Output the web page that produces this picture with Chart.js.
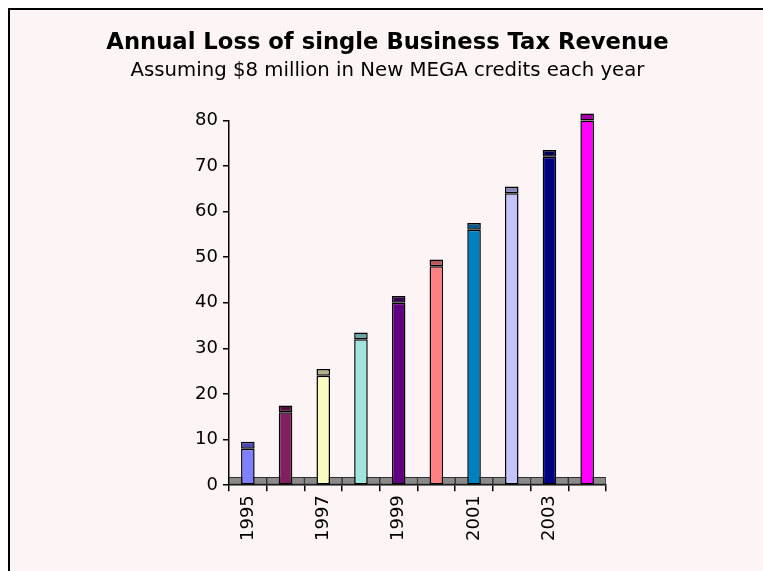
<!DOCTYPE html>
<html>
<head>
<meta charset="utf-8">
<script src="https://cdn.jsdelivr.net/npm/chart.js@4"></script>
<style>
  html, body { margin: 0; padding: 0; background: #ffffff; }
  #frame {
    position: absolute; left: 8px; top: 8px;
    width: 755px; height: 563px;
    border-left: 2px solid #000; border-top: 2px solid #000;
    background: #fdf5f5;
  }
  canvas { display: block; }
</style>
</head>
<body>
<div id="frame"><canvas id="taxChart" width="755" height="563"></canvas></div>
<script>
// years on the x axis
const years = ['1995', '1996', '1997', '1998', '1999', '2000', '2001', '2002', '2003', '2004'];
// cumulative loss, $ million (8 per year)
const lossValues = [8, 16, 24, 32, 40, 48, 56, 64, 72, 80];
// darker top face of each column
const capValues = [1.5, 1.5, 1.5, 1.5, 1.5, 1.5, 1.5, 1.5, 1.5, 1.5];
// grey floor strip along the axis
const floorValues = [1.7, 1.7, 1.7, 1.7, 1.7, 1.7, 1.7, 1.7, 1.7, 1.7];
const yTicks = [0, 10, 20, 30, 40, 50, 60, 70, 80];

const barColors = ['#8080ff', '#802060', '#f8fcc0', '#a0e4e0', '#600080', '#ff8080', '#0080c0', '#c4c4fc', '#000080', '#ff00ff'];
const capColors = ['#4848b0', '#501038', '#b0b488', '#68a4a0', '#380050', '#b85858', '#005888', '#8888b8', '#000050', '#a800a8'];

const family = '"DejaVu Sans", Verdana, sans-serif';
const tickFont = { family: family, size: 18 };

// Build the chart
const ctx = document.getElementById('taxChart').getContext('2d');
new Chart(ctx, {
  type: 'bar',
  data: {
    labels: years,
    datasets: [
      {
        label: 'Loss',
        data: lossValues,
        stack: 'main',
        backgroundColor: barColors,
        borderColor: '#000',
        borderWidth: 1.5,
        borderSkipped: false,
        grouped: false,
        categoryPercentage: 1,
        barPercentage: 0.36,
        clip: false,
        order: 1
      },
      {
        label: 'Cap',
        data: capValues,
        stack: 'main',
        backgroundColor: capColors,
        borderColor: '#000',
        borderWidth: 1.5,
        borderSkipped: false,
        grouped: false,
        categoryPercentage: 1,
        barPercentage: 0.36,
        clip: false,
        order: 1
      },
      {
        label: 'Floor',
        data: floorValues,
        stack: 'floor',
        backgroundColor: '#8a8a8a',
        borderColor: '#303030',
        borderWidth: 1,
        borderSkipped: false,
        grouped: false,
        categoryPercentage: 1,
        barPercentage: 1,
        order: 5
      }
    ]
  },
  options: {
    responsive: false,
    animation: false,
    layout: { padding: { left: 0, right: 0, top: 19, bottom: 28 } },
    plugins: {
      legend: { display: false },
      tooltip: { enabled: false },
      title: {
        display: true,
        text: 'Annual Loss of single Business Tax Revenue',
        color: '#000',
        font: { family: family, size: 22.7, weight: 'bold' },
        padding: { top: 0, bottom: 2 }
      },
      subtitle: {
        display: true,
        text: 'Assuming $8 million in New MEGA credits each year',
        color: '#000',
        font: { family: family, size: 19.7 },
        padding: { top: 0.5, bottom: 38 }
      }
    },
    scales: {
      x: {
        stacked: true,
        offset: true,
        grid: { offset: true, drawOnChartArea: false, drawTicks: true, tickLength: 6, color: '#000', lineWidth: 1.5 },
        border: { display: true, color: '#000', width: 1.5 },
        ticks: {
          color: '#000',
          font: tickFont,
          autoSkip: false,
          minRotation: 90,
          maxRotation: 90,
          padding: 4,
          callback: (v, i) => (i % 2 === 0 ? years[i] : '')
        }
      },
      y: {
        stacked: true,
        min: 0,
        max: 80,
        afterFit: s => { s.width = 219; },
        afterBuildTicks: s => { s.ticks = yTicks.map(v => ({ value: v })); },
        grid: { drawOnChartArea: false, drawTicks: true, tickLength: 6, color: '#000', lineWidth: 1.5 },
        border: { display: true, color: '#000', width: 1.5 },
        ticks: { color: '#000', font: tickFont, padding: 5 }
      },
      // empty space to the right of the plot, keeps the titles centred on the page
      spacer: {
        type: 'linear',
        position: 'right',
        display: true,
        min: 0,
        max: 1,
        afterFit: s => { s.width = 159; },
        grid: { display: false },
        border: { display: false },
        ticks: { display: false }
      }
    }
  }
});
</script>
</body>
</html>
